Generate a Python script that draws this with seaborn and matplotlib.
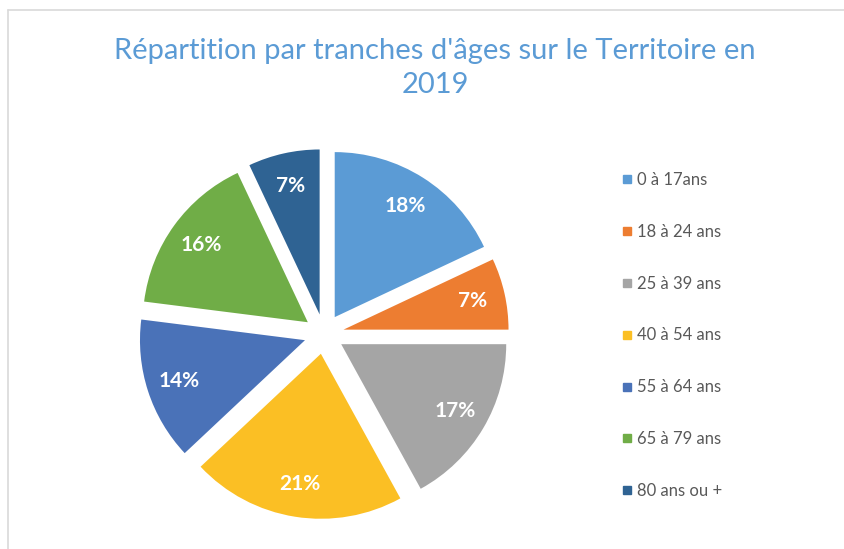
import matplotlib
matplotlib.use("Agg")
import matplotlib.pyplot as plt
import seaborn as sns
from matplotlib.lines import Line2D

categories = ["0 à 17ans", "18 à 24 ans", "25 à 39 ans", "40 à 54 ans",
              "55 à 64 ans", "65 à 79 ans", "80 ans ou +"]
values = [18, 7, 17, 21, 14, 16, 7]
colors = ["#5B9BD5", "#ED7D31", "#A5A5A5", "#FBBF24", "#4A72B8", "#70AD47", "#2F6393"]
title = "Répartition par tranches d'âges sur le Territoire en\n2019"

sns.set_theme(style="white")
plt.rcParams["font.family"] = ["Lato", "DejaVu Sans"]
palette = sns.color_palette(colors)

W, H = 845, 549
fig = plt.figure(figsize=(W / 100, H / 100), dpi=100)
ax = fig.add_axes([0, 0, 1, 1])

cx, cy, R = 324, H - 334, 165
wedges, texts, autotexts = ax.pie(
    values, colors=palette, startangle=90, counterclock=False,
    center=(cx, cy), radius=R, explode=[20] * len(values),
    autopct="%1.0f%%", pctdistance=0.8,
    textprops=dict(color="white", fontsize=15, fontweight="bold"),
    wedgeprops=dict(linewidth=0))

ax.set_xlim(0, W)
ax.set_ylim(0, H)
ax.set_aspect("equal")
ax.axis("off")

# chart border
ax.plot([8.5, W], [H - 9.5, H - 9.5], color="#D9D9D9", lw=1.2, clip_on=False)
ax.plot([8.5, 8.5], [0, H - 9.5], color="#D9D9D9", lw=1.2, clip_on=False)

ax.text(435, H - 68, title, ha="center", va="center", fontsize=21,
        color="#5B9BD5", linespacing=1.4)

handles = [Line2D([0], [0], marker="s", linestyle="none", markersize=6,
                  markerfacecolor=c, markeredgecolor=c) for c in palette]
leg = fig.legend(handles, categories, loc="upper left",
                 bbox_to_anchor=(607 / W, 1 - 157 / H), frameon=False,
                 fontsize=12, labelcolor="#595959", handlelength=0.6,
                 handletextpad=0.3, labelspacing=2.15)

fig.savefig("out.png", dpi=100, facecolor="white")
